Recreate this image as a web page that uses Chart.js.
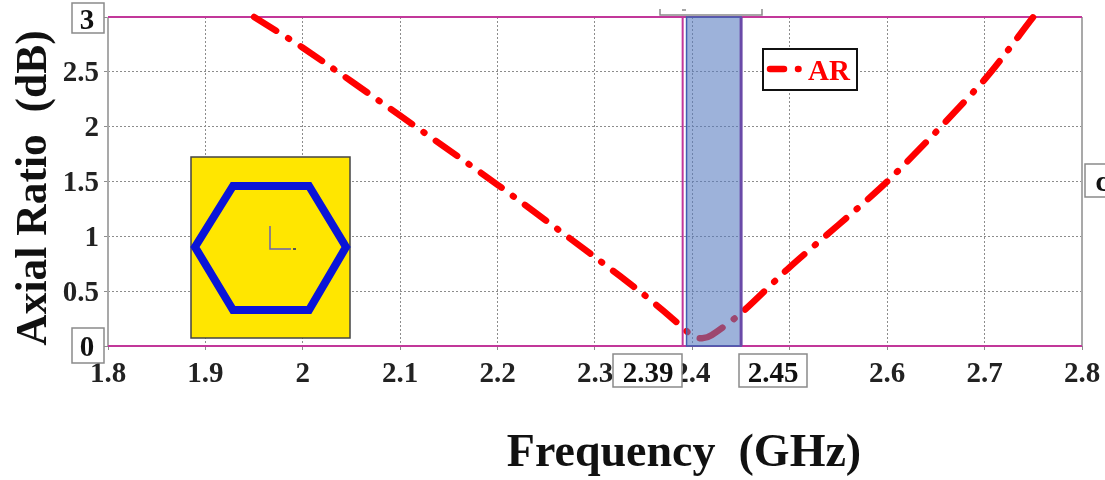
<!DOCTYPE html>
<html>
<head>
<meta charset="utf-8">
<title>Axial Ratio</title>
<script src="https://cdn.jsdelivr.net/npm/chart.js@4/dist/chart.umd.min.js"></script>
<style>
    html, body { margin: 0; padding: 0; background: #fff; }
    canvas { display: block; filter: blur(0.5px); }
</style>
</head>
<body>
<canvas id="arChart" width="1105" height="480"></canvas>
<script>
var frequency = [1.95, 2.0, 2.1, 2.2, 2.3, 2.35, 2.39, 2.4, 2.41, 2.42, 2.45, 2.5, 2.6, 2.7, 2.75];
var axialRatio = [3.0, 2.72, 2.1, 1.47, 0.81, 0.47, 0.17, 0.09, 0.07, 0.1, 0.3, 0.72, 1.5, 2.43, 3.0];

var seriesName = 'AR';
var xTitle = 'Frequency  (GHz)';
var yTitle = 'Axial Ratio  (dB)';
var bandStart = 2.394;
var bandEnd = 2.45;
var markerFreq = 2.39;
var boxedY = ['3', '0'];

var serif = '"Liberation Serif", serif';
var pink = '#c2389a';
var axisGray = '#a9a9a9';

function box(ctx, x, y, w, h, color, lineWidth) {
    ctx.fillStyle = '#fff';
    ctx.fillRect(x, y, w, h);
    ctx.strokeStyle = color;
    ctx.lineWidth = lineWidth;
    ctx.strokeRect(x, y, w, h);
}

function boxText(ctx, text, x, y, size, color) {
    ctx.fillStyle = color || '#111';
    ctx.font = 'bold ' + size + 'px ' + serif;
    ctx.textAlign = 'center';
    ctx.textBaseline = 'middle';
    ctx.fillText(text, x, y);
}

// frame lines go under the curve
var framePlugin = {
    id: 'frame',
    beforeDatasetsDraw: function (chart) {
        var ctx = chart.ctx, a = chart.chartArea;
        ctx.save();
        ctx.strokeStyle = axisGray;
        ctx.lineWidth = 2;
        ctx.beginPath();
        ctx.moveTo(a.left, a.top); ctx.lineTo(a.left, a.bottom);
        ctx.moveTo(a.right, a.top); ctx.lineTo(a.right, a.bottom);
        ctx.stroke();
        ctx.strokeStyle = pink;
        ctx.beginPath();
        ctx.moveTo(a.left, a.top); ctx.lineTo(a.right, a.top);
        ctx.moveTo(a.left, a.bottom); ctx.lineTo(a.right, a.bottom);
        ctx.stroke();
        ctx.restore();
    }
};

// the band, the callout boxes, the antenna inset and the titles
var overlayPlugin = {
    id: 'overlay',
    afterDatasetsDraw: function (chart) {
        var ctx = chart.ctx, a = chart.chartArea;
        var sx = chart.scales.x;
        ctx.save();

        // band
        var x0 = sx.getPixelForValue(bandStart), x1 = sx.getPixelForValue(bandEnd);
        ctx.fillStyle = 'rgba(86, 122, 192, 0.58)';
        ctx.fillRect(x0, a.top, x1 - x0, a.bottom - a.top);
        ctx.strokeStyle = '#3f5fb0';
        ctx.lineWidth = 1.5;
        ctx.strokeRect(x0, a.top, x1 - x0, a.bottom - a.top);
        ctx.strokeStyle = '#6a4aa8';
        ctx.lineWidth = 3;
        ctx.beginPath();
        ctx.moveTo(x1, a.top); ctx.lineTo(x1, a.bottom);
        ctx.stroke();
        var mx = sx.getPixelForValue(markerFreq);
        ctx.strokeStyle = pink;
        ctx.lineWidth = 2;
        ctx.beginPath();
        ctx.moveTo(mx, a.top); ctx.lineTo(mx, a.bottom);
        ctx.stroke();

        // inset
        ctx.fillStyle = '#ffe600';
        ctx.fillRect(191, 157, 159, 181);
        ctx.strokeStyle = '#444';
        ctx.lineWidth = 1.5;
        ctx.strokeRect(191, 157, 159, 181);
        ctx.strokeStyle = '#0a14d8';
        ctx.lineWidth = 8;
        ctx.lineJoin = 'miter';
        ctx.beginPath();
        ctx.moveTo(233, 186); ctx.lineTo(309, 186); ctx.lineTo(346, 247);
        ctx.lineTo(309, 310); ctx.lineTo(233, 310); ctx.lineTo(195, 247);
        ctx.closePath();
        ctx.stroke();
        ctx.strokeStyle = '#6a62b0';
        ctx.lineWidth = 1.5;
        ctx.beginPath();
        ctx.moveTo(270, 226); ctx.lineTo(270, 249); ctx.lineTo(291, 249);
        ctx.stroke();
        ctx.fillStyle = '#555';
        ctx.fillRect(293, 248, 3, 2);

        // legend
        box(ctx, 763, 49, 94, 41, '#111', 2);
        ctx.strokeStyle = 'red';
        ctx.lineWidth = 6.5;
        ctx.lineCap = 'round';
        ctx.beginPath();
        ctx.moveTo(770, 69); ctx.lineTo(784, 69);
        ctx.moveTo(798, 69); ctx.lineTo(798.5, 69);
        ctx.stroke();
        ctx.lineCap = 'butt';
        boxText(ctx, seriesName, 829, 73, 29, 'red');

        // callouts
        box(ctx, 613, 354, 69, 33, '#8a8a8a', 1.5);
        boxText(ctx, String(markerFreq), 648, 375, 29);
        box(ctx, 739, 354, 68, 33, '#8a8a8a', 1.5);
        boxText(ctx, bandEnd.toFixed(2), 773, 375, 29);
        box(ctx, 72, 3, 32, 30, '#8a8a8a', 1.5);
        boxText(ctx, boxedY[0], 87, 22, 29);
        box(ctx, 72, 328, 32, 35, '#8a8a8a', 1.5);
        boxText(ctx, boxedY[1], 87, 349, 29);

        // boxes cut off by the crop
        ctx.strokeStyle = '#8a8a8a';
        ctx.lineWidth = 1.5;
        ctx.beginPath();
        ctx.moveTo(660, 9); ctx.lineTo(660, 15); ctx.lineTo(762, 15); ctx.lineTo(762, 9);
        ctx.moveTo(682, 10); ctx.lineTo(686, 10);
        ctx.moveTo(1105, 164); ctx.lineTo(1085, 164); ctx.lineTo(1085, 197); ctx.lineTo(1105, 197);
        ctx.stroke();
        boxText(ctx, 'c', 1102, 184, 29);

        // titles
        boxText(ctx, xTitle, 684, 454, 46);
        ctx.translate(35, 188);
        ctx.rotate(-Math.PI / 2);
        boxText(ctx, yTitle, 0, 0, 43.5);
        ctx.restore();
    }
};

var ctx = document.getElementById('arChart').getContext('2d');

var arChart = new Chart(ctx, {
    type: 'line',
    data: {
        labels: frequency,
        datasets: [
            {
                label: seriesName,
                data: frequency.map(function (f, i) { return { x: f, y: axialRatio[i] }; }),
                borderColor: '#ff0000',
                borderWidth: 6.5,
                borderDash: [26, 14, 1, 14],
                borderCapStyle: 'round',
                pointRadius: 0,
                fill: false,
                tension: 0.25,
                clip: 4
            }
        ]
    },
    options: {
        responsive: false,
        animation: false,
        layout: { padding: { left: 0, right: 23, top: 17, bottom: 0 } },
        plugins: {
            legend: { display: false },
            title: { display: false },
            tooltip: { enabled: false }
        },
        scales: {
            x: {
                type: 'linear',
                min: 1.8,
                max: 2.8,
                afterFit: function (scale) {
                    scale.height = 134;
                    scale.paddingLeft = 0;
                    scale.paddingRight = 0;
                },
                ticks: {
                    stepSize: 0.1,
                    maxRotation: 0,
                    autoSkip: false,
                    padding: 7,
                    color: '#222',
                    font: { family: serif, size: 29, weight: 'bold' },
                    callback: function (v) { return Number(v.toFixed(1)); }
                },
                border: { display: false, dash: [2, 2] },
                grid: { color: '#8c8c8c', tickColor: '#8c8c8c', tickLength: 4, tickBorderDash: [], lineWidth: 1 }
            },
            y: {
                min: 0,
                max: 3,
                afterFit: function (scale) {
                    scale.width = 108;
                    scale.paddingTop = 0;
                    scale.paddingBottom = 0;
                },
                ticks: {
                    stepSize: 0.5,
                    padding: 5,
                    labelOffset: 2,
                    color: '#222',
                    font: { family: serif, size: 29, weight: 'bold' },
                    callback: function (v) { return (v === 0 || v === 3) ? '' : v; }
                },
                border: { display: false, dash: [2, 2] },
                grid: { color: '#8c8c8c', tickColor: '#8c8c8c', tickLength: 4, tickBorderDash: [], lineWidth: 1 }
            }
        }
    },
    plugins: [framePlugin, overlayPlugin]
});
</script>
</body>
</html>
